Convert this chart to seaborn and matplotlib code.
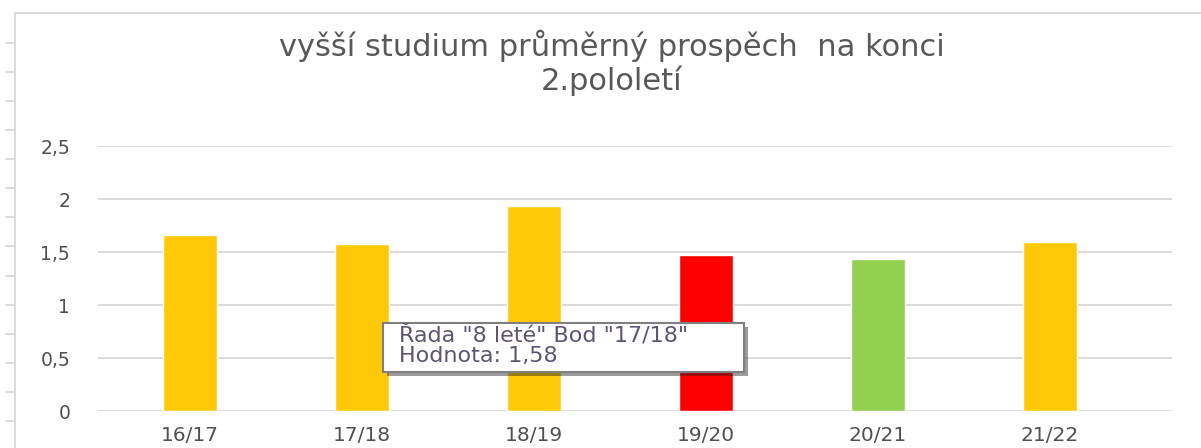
import numpy as np
import pandas as pd
import seaborn as sb
from matplotlib import pyplot as plt
from matplotlib.lines import Line2D
from matplotlib.patches import Rectangle
import matplotlib.patheffects as pe

# school years and average grade at the end of the 2nd term
years = ['16/17', '17/18', '18/19', '19/20', '20/21', '21/22']
grades = [1.66, 1.58, 1.93, 1.47, 1.43, 1.59]
bar_colors = ['#FFC90A', '#FFC90A', '#FFC90A', '#FF0000', '#92D050', '#FFC90A']
y_ticks = [0, 0.5, 1, 1.5, 2, 2.5]
y_tick_labels = ['0', '0,5', '1', '1,5', '2', '2,5']

title = 'vyšší studium průměrný prospěch  na konci\n2.pololetí'
tooltip = 'Řada "8 leté" Bod "17/18"\nHodnota: 1,58'

W, H = 1201, 448
text_grey = '#595959'
grid_grey = '#D9D9D9'

df = pd.DataFrame({'year': years, 'grade': grades})

sb.set_theme(style='white')
plt.rcParams['font.family'] = ['DejaVu Sans']

fig = plt.figure(figsize=(W / 100, H / 100), dpi=100)
ax = fig.add_axes([98 / W, (H - 411) / H, (1172 - 98) / W, (411 - 146) / H])

sb.barplot(data=df, x='year', y='grade', hue='year', palette=bar_colors,
           legend=False, width=0.314, saturation=1, ax=ax)

ax.set_xlim(-0.535, 5.709)
ax.set_ylim(0, 2.5)
ax.set_yticks(y_ticks)
ax.set_yticklabels(y_tick_labels)
ax.set_xlabel('')
ax.set_ylabel('')
ax.yaxis.grid(True, color=grid_grey, linewidth=1.3)
ax.set_axisbelow(True)
for side in ['left', 'right', 'top', 'bottom']:
    ax.spines[side].set_visible(False)
ax.tick_params(axis='y', length=0, pad=20, labelsize=13.5, labelcolor='#505050')
ax.tick_params(axis='x', length=0, pad=11, labelsize=14.5, labelcolor='#505050')

# chart title
fig.text(612 / W, 1 - 63 / H, title, ha='center', va='center', fontsize=22,
         color=text_grey, family='DejaVu Sans', linespacing=1.15)

# sheet border with small ruler ticks on the left
fig.add_artist(Line2D([15 / W, 15 / W], [0, 1 - 13 / H], color=grid_grey, lw=1.3))
fig.add_artist(Line2D([15 / W, 1], [1 - 13 / H, 1 - 13 / H], color=grid_grey, lw=1.3))
for yy in np.arange(42.7, H, 29.1):
    fig.add_artist(Line2D([6 / W, 15 / W], [1 - yy / H, 1 - yy / H], color=grid_grey, lw=1.3))

# hover tooltip left from the excel screenshot
box = Rectangle((383 / W, 1 - 372 / H), (744 - 383) / W, (372 - 323) / H,
                transform=fig.transFigure, facecolor='white', edgecolor='#7f7f7f',
                lw=1.5, zorder=10,
                path_effects=[pe.SimplePatchShadow(offset=(3, -3), shadow_rgbFace='#222222', alpha=0.45),
                              pe.Normal()])
fig.add_artist(box)
fig.text(399 / W, 1 - 346 / H, tooltip, ha='left', va='center', fontsize=16,
         color='#5f5573', family='DejaVu Sans', linespacing=0.98, zorder=11)

fig.savefig('out.png', dpi=100)
